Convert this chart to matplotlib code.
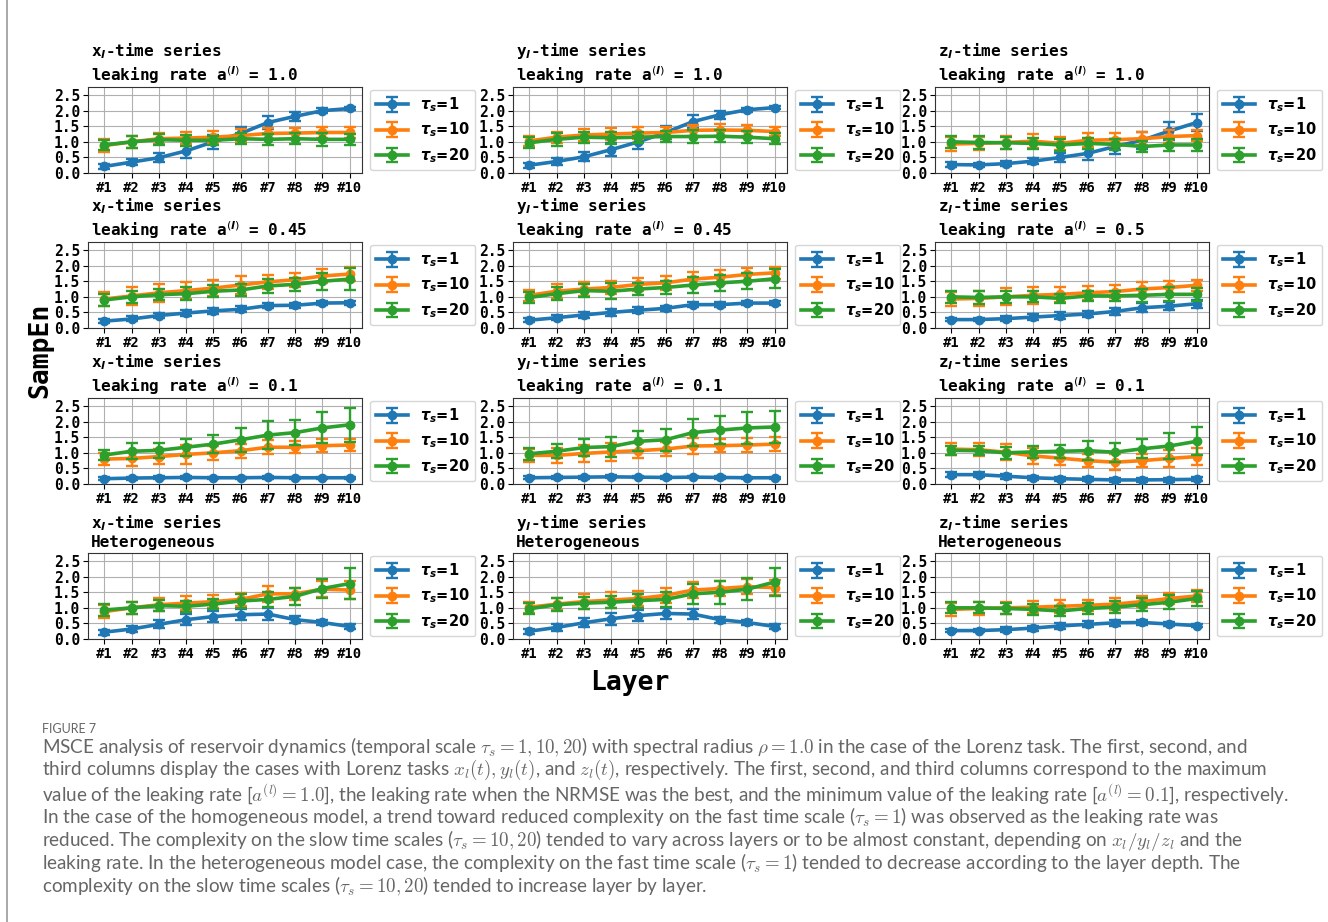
import matplotlib
matplotlib.use('Agg')
import matplotlib.pyplot as plt
from matplotlib.lines import Line2D

plt.rcParams['mathtext.fontset'] = 'custom'
plt.rcParams['mathtext.it'] = 'DejaVu Sans:italic:bold'
plt.rcParams['mathtext.bf'] = 'DejaVu Sans:bold'
plt.rcParams['mathtext.rm'] = 'DejaVu Sans'

layers = ['#1', '#2', '#3', '#4', '#5', '#6', '#7', '#8', '#9', '#10']
taus = [1, 10, 20]
colors = ['#1f77b4', '#ff7f0e', '#2ca02c']

# ---- row 1: leaking rate max ----
x_a10_mean = [[0.21, 0.35, 0.49, 0.71, 1.00, 1.27, 1.62, 1.82, 2.00, 2.07],
              [0.88, 1.00, 1.10, 1.12, 1.15, 1.20, 1.27, 1.28, 1.30, 1.30],
              [0.90, 1.00, 1.07, 1.05, 1.05, 1.10, 1.08, 1.10, 1.08, 1.08]]
x_a10_err = [[0.08, 0.10, 0.15, 0.22, 0.22, 0.22, 0.20, 0.15, 0.07, 0.06],
             [0.20, 0.20, 0.18, 0.20, 0.20, 0.20, 0.18, 0.18, 0.18, 0.18],
             [0.17, 0.20, 0.17, 0.17, 0.15, 0.17, 0.17, 0.18, 0.20, 0.18]]
y_a10_mean = [[0.25, 0.37, 0.52, 0.75, 1.00, 1.30, 1.65, 1.87, 2.03, 2.10],
              [1.03, 1.15, 1.22, 1.25, 1.28, 1.30, 1.37, 1.38, 1.37, 1.33],
              [0.97, 1.08, 1.15, 1.13, 1.15, 1.17, 1.17, 1.18, 1.15, 1.10]]
y_a10_err = [[0.08, 0.10, 0.15, 0.20, 0.22, 0.22, 0.20, 0.13, 0.06, 0.06],
             [0.17, 0.18, 0.20, 0.18, 0.20, 0.18, 0.18, 0.18, 0.18, 0.15],
             [0.17, 0.20, 0.18, 0.20, 0.18, 0.18, 0.20, 0.20, 0.20, 0.18]]
z_a10_mean = [[0.27, 0.26, 0.30, 0.38, 0.50, 0.63, 0.85, 1.05, 1.35, 1.62],
              [0.93, 0.95, 0.98, 1.02, 0.95, 1.05, 1.07, 1.10, 1.17, 1.20],
              [1.00, 0.98, 0.97, 0.95, 0.90, 0.95, 0.92, 0.85, 0.90, 0.90]]
z_a10_err = [[0.07, 0.07, 0.08, 0.10, 0.15, 0.20, 0.25, 0.28, 0.30, 0.28],
             [0.22, 0.22, 0.22, 0.22, 0.22, 0.22, 0.20, 0.20, 0.20, 0.18],
             [0.20, 0.20, 0.20, 0.18, 0.18, 0.18, 0.17, 0.17, 0.18, 0.18]]

# ---- row 2: leaking rate best NRMSE ----
x_best_mean = [[0.22, 0.29, 0.40, 0.48, 0.55, 0.60, 0.72, 0.73, 0.80, 0.81],
               [0.93, 1.03, 1.13, 1.20, 1.28, 1.38, 1.48, 1.55, 1.67, 1.73],
               [0.90, 1.00, 1.07, 1.10, 1.18, 1.22, 1.35, 1.40, 1.50, 1.57]]
x_best_err = [[0.07, 0.08, 0.09, 0.10, 0.09, 0.09, 0.08, 0.08, 0.07, 0.07],
              [0.22, 0.28, 0.28, 0.28, 0.25, 0.28, 0.22, 0.22, 0.22, 0.22],
              [0.20, 0.20, 0.18, 0.20, 0.20, 0.20, 0.22, 0.22, 0.27, 0.35]]
y_best_mean = [[0.25, 0.33, 0.42, 0.50, 0.57, 0.63, 0.75, 0.75, 0.80, 0.80],
               [1.05, 1.18, 1.25, 1.30, 1.40, 1.45, 1.57, 1.63, 1.72, 1.77],
               [0.98, 1.10, 1.20, 1.18, 1.25, 1.30, 1.38, 1.45, 1.50, 1.58]]
y_best_err = [[0.07, 0.08, 0.09, 0.10, 0.09, 0.09, 0.08, 0.08, 0.07, 0.07],
              [0.17, 0.22, 0.22, 0.22, 0.22, 0.22, 0.22, 0.22, 0.22, 0.20],
              [0.17, 0.20, 0.20, 0.25, 0.20, 0.22, 0.25, 0.25, 0.25, 0.30]]
z_best_mean = [[0.27, 0.27, 0.30, 0.35, 0.40, 0.45, 0.53, 0.65, 0.70, 0.78],
               [0.93, 0.95, 1.00, 1.05, 1.08, 1.13, 1.17, 1.25, 1.30, 1.37],
               [1.00, 0.98, 1.00, 1.00, 0.95, 1.03, 1.03, 1.05, 1.08, 1.08]]
z_best_err = [[0.06, 0.06, 0.07, 0.09, 0.10, 0.11, 0.12, 0.14, 0.13, 0.13],
              [0.22, 0.25, 0.27, 0.27, 0.25, 0.23, 0.22, 0.22, 0.22, 0.18],
              [0.20, 0.20, 0.20, 0.18, 0.15, 0.15, 0.17, 0.20, 0.22, 0.20]]

# ---- row 3: leaking rate min ----
x_a01_mean = [[0.17, 0.19, 0.20, 0.21, 0.20, 0.20, 0.21, 0.20, 0.20, 0.20],
              [0.80, 0.82, 0.88, 0.95, 1.00, 1.07, 1.18, 1.18, 1.23, 1.25],
              [0.93, 1.05, 1.08, 1.18, 1.28, 1.42, 1.57, 1.65, 1.80, 1.90]]
x_a01_err = [[0.05, 0.05, 0.05, 0.05, 0.04, 0.04, 0.04, 0.04, 0.04, 0.04],
             [0.20, 0.25, 0.25, 0.30, 0.22, 0.22, 0.22, 0.20, 0.20, 0.20],
             [0.15, 0.25, 0.25, 0.28, 0.30, 0.38, 0.45, 0.40, 0.50, 0.55]]
y_a01_mean = [[0.20, 0.21, 0.22, 0.23, 0.22, 0.21, 0.22, 0.21, 0.20, 0.20],
              [0.92, 0.92, 0.98, 1.03, 1.07, 1.12, 1.22, 1.23, 1.25, 1.28],
              [0.97, 1.05, 1.17, 1.20, 1.37, 1.42, 1.65, 1.73, 1.80, 1.83]]
y_a01_err = [[0.05, 0.05, 0.05, 0.05, 0.04, 0.04, 0.04, 0.04, 0.04, 0.04],
             [0.20, 0.25, 0.27, 0.28, 0.25, 0.22, 0.25, 0.20, 0.22, 0.22],
             [0.20, 0.22, 0.27, 0.32, 0.32, 0.35, 0.43, 0.45, 0.52, 0.50]]
z_a01_mean = [[0.30, 0.30, 0.25, 0.20, 0.17, 0.15, 0.13, 0.13, 0.14, 0.15],
              [1.12, 1.10, 1.02, 0.90, 0.83, 0.75, 0.70, 0.75, 0.82, 0.88],
              [1.08, 1.07, 1.00, 1.03, 1.05, 1.07, 1.02, 1.13, 1.22, 1.37]]
z_a01_err = [[0.07, 0.07, 0.08, 0.07, 0.06, 0.06, 0.06, 0.06, 0.06, 0.06],
             [0.20, 0.20, 0.25, 0.25, 0.22, 0.22, 0.25, 0.22, 0.28, 0.27],
             [0.15, 0.15, 0.20, 0.20, 0.20, 0.30, 0.30, 0.30, 0.43, 0.45]]

# ---- row 4: heterogeneous ----
x_het_mean = [[0.22, 0.32, 0.47, 0.62, 0.72, 0.78, 0.80, 0.62, 0.53, 0.40],
              [0.88, 1.00, 1.10, 1.15, 1.20, 1.27, 1.45, 1.45, 1.60, 1.57],
              [0.93, 1.00, 1.07, 1.05, 1.12, 1.22, 1.27, 1.37, 1.62, 1.78]]
x_het_err = [[0.08, 0.10, 0.13, 0.17, 0.18, 0.18, 0.20, 0.12, 0.07, 0.07],
             [0.20, 0.20, 0.20, 0.23, 0.22, 0.22, 0.25, 0.20, 0.25, 0.28],
             [0.18, 0.20, 0.18, 0.17, 0.17, 0.22, 0.25, 0.28, 0.30, 0.50]]
y_het_mean = [[0.25, 0.37, 0.52, 0.65, 0.75, 0.82, 0.80, 0.62, 0.53, 0.40],
              [1.02, 1.12, 1.20, 1.25, 1.30, 1.40, 1.57, 1.62, 1.68, 1.65],
              [0.97, 1.10, 1.15, 1.18, 1.23, 1.27, 1.45, 1.50, 1.60, 1.83]]
y_het_err = [[0.08, 0.10, 0.14, 0.20, 0.18, 0.17, 0.15, 0.10, 0.07, 0.07],
             [0.17, 0.18, 0.25, 0.25, 0.25, 0.25, 0.25, 0.25, 0.25, 0.25],
             [0.18, 0.20, 0.20, 0.20, 0.22, 0.25, 0.32, 0.37, 0.35, 0.45]]
z_het_mean = [[0.27, 0.27, 0.30, 0.35, 0.42, 0.47, 0.52, 0.53, 0.48, 0.43],
              [0.95, 0.98, 1.00, 1.02, 1.05, 1.08, 1.12, 1.20, 1.30, 1.38],
              [1.00, 1.00, 0.98, 0.95, 0.90, 0.98, 1.02, 1.10, 1.18, 1.30]]
z_het_err = [[0.06, 0.06, 0.07, 0.08, 0.09, 0.10, 0.10, 0.09, 0.07, 0.06],
             [0.20, 0.20, 0.20, 0.20, 0.20, 0.18, 0.18, 0.18, 0.18, 0.18],
             [0.18, 0.18, 0.18, 0.17, 0.17, 0.18, 0.20, 0.20, 0.22, 0.25]]

series_names = ['x', 'y', 'z']
row_labels = [['1.0', '1.0', '1.0'],
              ['0.45', '0.45', '0.5'],
              ['0.1', '0.1', '0.1'],
              [None, None, None]]
panels = [[(x_a10_mean, x_a10_err), (y_a10_mean, y_a10_err), (z_a10_mean, z_a10_err)],
          [(x_best_mean, x_best_err), (y_best_mean, y_best_err), (z_best_mean, z_best_err)],
          [(x_a01_mean, x_a01_err), (y_a01_mean, y_a01_err), (z_a01_mean, z_a01_err)],
          [(x_het_mean, x_het_err), (y_het_mean, y_het_err), (z_het_mean, z_het_err)]]

W, H = 1328, 922
fig = plt.figure(figsize=(W / 100, H / 100), dpi=100)

mono = 'DejaVu Sans Mono'
col_left = [88, 513, 935]
row_top = [87, 242, 398, 553]
ax_w, ax_h = 274, 86

for r in range(4):
    for c in range(3):
        l = col_left[c] / W
        b = 1 - (row_top[r] + ax_h) / H
        ax = fig.add_axes([l, b, ax_w / W, ax_h / H])
        means, errs = panels[r][c]
        xs = list(range(len(layers)))
        for k in range(3):
            ax.errorbar(xs, means[k], yerr=errs[k], fmt='-o', color=colors[k],
                        lw=2.6, ms=6, capsize=4, capthick=1.7, elinewidth=1.7,
                        label=r'$\tau_s$=%d' % taus[k], zorder=3 + k)
        ax.set_ylim(0, 2.76)
        ax.set_xlim(-0.6, 9.45)
        ax.set_yticks([0.0, 0.5, 1.0, 1.5, 2.0, 2.5])
        ax.set_yticklabels(['0.0', '0.5', '1.0', '1.5', '2.0', '2.5'],
                           family=mono, fontsize=10.5, fontweight='bold')
        ax.set_xticks(xs)
        ax.set_xticklabels(layers, family=mono, fontsize=10, fontweight='bold')
        ax.tick_params(length=3.5, width=0.8, pad=2)
        ax.grid(True, color='#b0b0b0', lw=0.8, zorder=0)
        ax.set_axisbelow(True)
        for sp in ax.spines.values():
            sp.set_color('#333333')
        nm = series_names[c]
        if row_labels[r][c] is None:
            title = nm + r'$_l$-time series' + '\nHeterogeneous'
        else:
            title = nm + r'$_l$-time series' + '\nleaking rate a$^{(l)}$ = ' + row_labels[r][c]
        ax.set_title(title, loc='left', family=mono, fontsize=11.5, pad=4,
                     linespacing=1.2, x=0.012, fontweight='semibold')
        leg = ax.legend(loc='center left', bbox_to_anchor=(1.03, 0.5),
                        prop={'family': 'DejaVu Sans', 'weight': 'bold', 'size': 10.5},
                        handlelength=2.2, borderpad=0.4, labelspacing=0.45,
                        handletextpad=0.8, borderaxespad=0.0)

fig.text(40 / W, 1 - 350 / H, 'SampEn', rotation=90, ha='center', va='center',
         family=mono, fontsize=19, fontweight='bold')
fig.text(630 / W, 1 - 683 / H, 'Layer', ha='center', va='center',
         family=mono, fontsize=19, fontweight='bold')

# border of the figure box
fig.add_artist(Line2D([7 / W, 7 / W], [0, 1], color='#9a9a9a', lw=1.2))

cap_color = '#666666'
cap_font = 'Lato'
fig.text(42 / W, 1 - 729 / H, 'FIGURE 7', ha='left', va='center', color=cap_color,
         family=cap_font, fontsize=9)
caption_lines = [
    r'MSCE analysis of reservoir dynamics (temporal scale $\tau_s = 1, 10, 20$) with spectral radius $\rho = 1.0$ in the case of the Lorenz task. The first, second, and',
    r'third columns display the cases with Lorenz tasks $x_l(t), y_l(t)$, and $z_l(t)$, respectively. The first, second, and third columns correspond to the maximum',
    r'value of the leaking rate [$a^{(l)} = 1.0$], the leaking rate when the NRMSE was the best, and the minimum value of the leaking rate [$a^{(l)} = 0.1$], respectively.',
    r'In the case of the homogeneous model, a trend toward reduced complexity on the fast time scale ($\tau_s = 1$) was observed as the leaking rate was',
    r'reduced. The complexity on the slow time scales ($\tau_s = 10, 20$) tended to vary across layers or to be almost constant, depending on $x_l/y_l/z_l$ and the',
    r'leaking rate. In the heterogeneous model case, the complexity on the fast time scale ($\tau_s = 1$) tended to decrease according to the layer depth. The',
    r'complexity on the slow time scales ($\tau_s = 10, 20$) tended to increase layer by layer.',
]
for i, line in enumerate(caption_lines):
    fig.text(42 / W, 1 - (747 + i * 23.3) / H, line, ha='left', va='center',
             color=cap_color, family=cap_font, fontsize=13.6, math_fontfamily='cm')

fig.savefig('out.png', dpi=100)
